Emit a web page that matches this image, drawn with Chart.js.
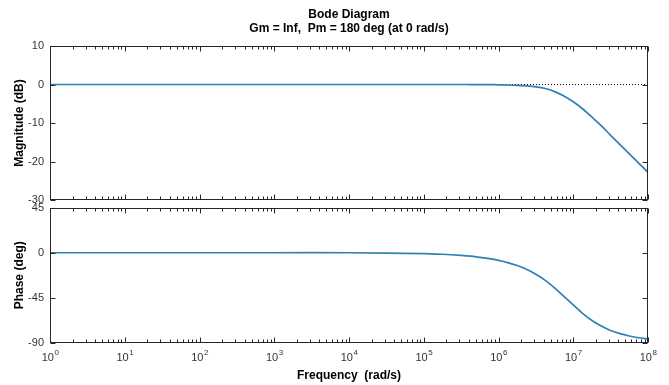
<!DOCTYPE html>
<html>
<head>
<meta charset="utf-8">
<script src="https://cdn.jsdelivr.net/npm/chart.js@4.4.1/dist/chart.umd.min.js"></script>
<style>
    html, body { margin: 0; padding: 0; background: #fff; }
    #wrap { position: relative; width: 669px; height: 385px; overflow: hidden; }
    #wrap canvas { position: absolute; left: 0; }
    #mag { top: 0; }
    #phase { top: 195px; }
</style>
</head>
<body>
<div id="wrap">
    <canvas id="mag" width="669" height="215"></canvas>
    <canvas id="phase" width="669" height="190"></canvas>
</div>
<script>
// values (finer steps where the curve bends)
const freq = [1, 10, 100, 1e3, 1e4, 1e5, 1.78e5, 3.16e5, 4.22e5, 5.62e5, 7.5e5,
    1e6, 1.33e6, 1.78e6, 2.37e6, 3.16e6, 4.22e6, 5.62e6, 7.5e6,
    1e7, 1.33e7, 1.78e7, 2.37e7, 3.16e7, 4.22e7, 5.62e7, 7.5e7, 1e8];
const magDb = [0, 0, 0, 0, 0, 0, 0, 0, -0.01, -0.02, -0.04,
    -0.08, -0.13, -0.22, -0.38, -0.62, -1.05, -1.85, -3.0,
    -4.5, -6.3, -8.5, -10.7, -13.2, -15.6, -18.0, -20.4, -22.8];
const phaseDeg = [0, 0, 0, 0, 0, -0.8, -1.5, -2.6, -3.4, -4.6, -5.9,
    -7.6, -9.8, -12.8, -16.5, -21.5, -27.5, -35, -43.5,
    -52, -60.5, -67.5, -73, -77.5, -80.7, -83, -84.8, -86];
const zeroLine = [1, 1e8];
const magTicks = [10, 0, -10, -20, -30];
const phaseTicks = [45, 0, -45, -90];
const decades = [0, 1, 2, 3, 4, 5, 6, 7, 8];
const titleLines = ['Bode Diagram', 'Gm = Inf,  Pm = 180 deg (at 0 rad/s)'];
const xTitle = 'Frequency  (rad/s)';

const FONT = '"Liberation Sans", Arial, Helvetica, sans-serif';
const CURVE = '#2f80b3';
const AXIS = '#262626';

// frame, inward ticks and the text the library can't do (superscripts)
const bodeFrame = {
    id: 'bodeFrame',
    afterDraw(chart, args, opts) {
        const { ctx, chartArea: a, scales: { x, y } } = chart;
        const L = Math.round(a.left) + 0.5, R = Math.round(a.right) - 0.5;
        const T = Math.round(a.top) + 0.5, B = Math.round(a.bottom) - 0.5;
        ctx.save();
        ctx.strokeStyle = AXIS;
        ctx.lineWidth = 1;
        ctx.strokeRect(L, T, R - L, B - T);

        ctx.beginPath();
        decades.forEach(e => {
            for (let m = 1; m <= 9; m++) {
                const v = m * Math.pow(10, e);
                if (v > 1e8) break;
                const px = Math.round(x.getPixelForValue(v)) + 0.5;
                const len = m === 1 ? 5 : 3;
                ctx.moveTo(px, T); ctx.lineTo(px, T + len);
                ctx.moveTo(px, B); ctx.lineTo(px, B - len);
            }
        });
        y.ticks.forEach(t => {
            const py = Math.round(y.getPixelForValue(t.value)) + 0.5;
            ctx.moveTo(L, py); ctx.lineTo(L + 5, py);
            ctx.moveTo(R, py); ctx.lineTo(R - 5, py);
        });
        ctx.stroke();

        ctx.fillStyle = '#000';
        ctx.textAlign = 'center';
        ctx.textBaseline = 'middle';
        if (opts.title) {
            ctx.font = 'bold 12px ' + FONT;
            const cx = (a.left + a.right) / 2;
            ctx.fillText(titleLines[0], cx, 15);
            ctx.fillText(titleLines[1], cx, 29);
        }
        if (opts.xLabels) {
            ctx.fillStyle = '#333';
            decades.forEach(e => {
                const px = x.getPixelForValue(Math.pow(10, e));
                ctx.font = '11px ' + FONT;
                const w1 = ctx.measureText('10').width;
                ctx.font = '8px ' + FONT;
                const w2 = ctx.measureText(String(e)).width;
                const left = px - (w1 + w2) / 2;
                ctx.textAlign = 'left';
                ctx.font = '11px ' + FONT;
                ctx.fillText('10', left, a.bottom + 15);
                ctx.font = '8px ' + FONT;
                ctx.fillText(String(e), left + w1 + 0.5, a.bottom + 10);
            });
            ctx.fillStyle = '#000';
            ctx.textAlign = 'center';
            ctx.font = 'bold 12px ' + FONT;
            ctx.fillText(xTitle, (a.left + a.right) / 2, a.bottom + 33);
        }
        ctx.restore();
    }
};

function pts(ys) {
    return freq.map((f, i) => ({ x: f, y: ys[i] }));
}

function makeOptions(tickList, min, max, title, pad, frameOpts) {
    return {
        responsive: false,
        animation: false,
        layout: { padding: pad },
        plugins: {
            legend: { display: false },
            tooltip: { enabled: false },
            bodeFrame: frameOpts
        },
        scales: {
            x: {
                type: 'logarithmic',
                min: 1,
                max: 1e8,
                display: false
            },
            y: {
                min: min,
                max: max,
                afterBuildTicks: s => { s.ticks = tickList.map(v => ({ value: v })); },
                afterFit: s => { s.width = 50; },
                grid: { display: false, drawTicks: false },
                border: { display: false },
                ticks: {
                    padding: 6,
                    color: '#333',
                    font: { family: FONT, size: 11 }
                },
                title: {
                    display: true,
                    text: title,
                    color: '#000',
                    padding: { top: 12, bottom: 0 },
                    font: { family: FONT, size: 12, weight: 'bold' }
                }
            }
        }
    };
}

new Chart(document.getElementById('mag'), {
    type: 'line',
    data: {
        datasets: [{
            data: pts(magDb),
            borderColor: CURVE,
            borderWidth: 1.7,
            pointRadius: 0,
            tension: 0.3
        }, {
            data: zeroLine.map(f => ({ x: f, y: 0 })),
            borderColor: '#000',
            borderWidth: 1,
            borderDash: [1, 2],
            pointRadius: 0
        }]
    },
    options: makeOptions(magTicks, -30, 10, 'Magnitude (dB)',
        { top: 46, bottom: 15, left: 0, right: 21 }, { title: true }),
    plugins: [bodeFrame]
});

new Chart(document.getElementById('phase'), {
    type: 'line',
    data: {
        datasets: [{
            data: pts(phaseDeg),
            borderColor: CURVE,
            borderWidth: 1.7,
            pointRadius: 0,
            tension: 0.3
        }]
    },
    options: makeOptions(phaseTicks, -90, 45, 'Phase (deg)',
        { top: 12, bottom: 42, left: 0, right: 21 }, { xLabels: true }),
    plugins: [bodeFrame]
});
</script>
</body>
</html>
